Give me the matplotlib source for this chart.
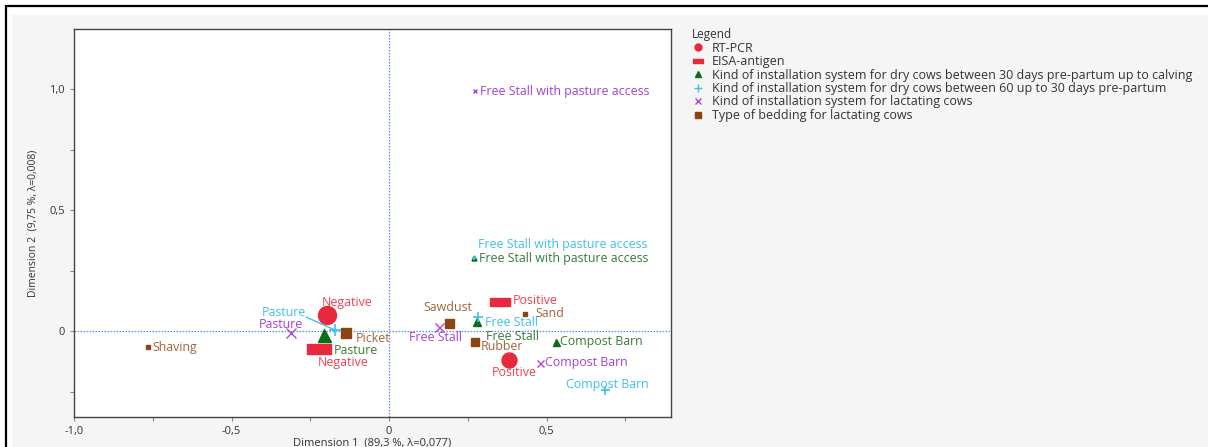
import matplotlib
matplotlib.use("Agg")
import matplotlib.pyplot as plt
from matplotlib.patches import Rectangle
from matplotlib.lines import Line2D

plt.rcParams['font.family'] = ['Open Sans', 'DejaVu Sans']

# ---- data ----
rt_labels = ["Negative", "Positive"]
rt_x = [-0.197, 0.381]
rt_y = [0.066, -0.120]

eisa_labels = ["Negative", "Positive"]
eisa_x = [-0.222, 0.352]
eisa_y = [-0.074, 0.120]

dry30_labels = ["Pasture", "Free Stall", "Compost Barn", "Free Stall with pasture access"]
dry30_x = [-0.206, 0.279, 0.530, 0.270]
dry30_y = [-0.017, 0.037, -0.045, 0.300]

dry60_labels = ["Pasture", "Free Stall", "Compost Barn", "Free Stall with pasture access"]
dry60_x = [-0.171, 0.282, 0.686, 0.270]
dry60_y = [0.004, 0.058, -0.244, 0.300]

lact_labels = ["Pasture", "Free Stall", "Compost Barn", "Free Stall with pasture access"]
lact_x = [-0.310, 0.160, 0.480, 0.273]
lact_y = [-0.010, 0.017, -0.130, 0.990]

bed_labels = ["Shaving", "Picket", "Sawdust", "Sand", "Rubber"]
bed_x = [-0.765, -0.137, 0.190, 0.430, 0.273]
bed_y = [-0.066, -0.006, 0.033, 0.070, -0.045]

legend_labels = ["RT-PCR", "EISA-antigen",
                 "Kind of installation system for dry cows between 30 days pre-partum up to calving",
                 "Kind of installation system for dry cows between 60 up to 30 days pre-partum",
                 "Kind of installation system for lactating cows",
                 "Type of bedding for lactating cows"]

# ---- styles ----
RED, RED_T = '#e8283c', '#f04050'
GRN, GRN_T = '#0a6e14', '#3a7a3a'
CYN, CYN_T = '#3cc0ec', '#40bff0'
PUR, PUR_T = '#b048d8', '#a440d0'
BRN, BRN_T = '#8b4513', '#a0643c'
rect_marker = [(-1.2, -0.5), (1.2, -0.5), (1.2, 0.5), (-1.2, 0.5), (-1.2, -0.5)]
FS = 8.9

W, H = 1208, 447
fig = plt.figure(figsize=(W / 100, H / 100), dpi=100, facecolor='white')
fig.patches.append(Rectangle((12 / W, -0.1), 1300 / W, (H - 15) / H + 0.1, transform=fig.transFigure,
                             facecolor='#f5f5f5', edgecolor='none', zorder=-20))
fig.patches.append(Rectangle((6 / W, -0.1), 1300 / W, (H - 6.5) / H + 0.1, transform=fig.transFigure,
                             facecolor='none', edgecolor='black', lw=1.6, zorder=-10))

ax = fig.add_axes([74 / W, 1 - 417 / H, (671 - 74) / W, (417 - 29) / H])
ax.set_facecolor('white')
ax.set_xlim(-1.0, 0.895)
ax.set_ylim(-0.355, 1.248)
ax.axhline(0, color='#5a8ee8', lw=0.9, ls=(0, (1.2, 1.2)), zorder=1)
ax.axvline(0, color='#5a8ee8', lw=0.9, ls=(0, (1.2, 1.2)), zorder=1)

ax.set_xticks([-1.0, -0.5, 0, 0.5])
ax.set_xticklabels(["-1,0", "-0,5", "0", "0,5"])
ax.set_xticks([-0.75, -0.25, 0.25, 0.75], minor=True)
ax.set_yticks([0, 0.5, 1.0])
ax.set_yticklabels(["0", "0,5", "1,0"])
ax.set_yticks([-0.25, 0.25, 0.75], minor=True)
ax.tick_params(which='both', direction='out', length=3, width=0.8, color='#888888',
               labelsize=8, labelcolor='#333333')
for s in ax.spines.values():
    s.set_color('#444444')
    s.set_linewidth(1.0)
ax.set_xlabel("Dimension 1  (89,3 %, λ=0,077)", fontsize=8, color='#333333', labelpad=0)
ax.set_ylabel("Dimension 2  (9,75 %, λ=0,008)", fontsize=7.5, color='#333333', labelpad=8)


def label(x, y, txt, color, dx, dy, ha='left'):
    ax.annotate(txt, (x, y), xytext=(dx, dy), textcoords='offset pixels',
                ha=ha, va='center', fontsize=FS, color=color, zorder=5)


def px(v):
    return v * 0.72

# RT-PCR circles
rt_sizes = [18, 15]
rt_off = [(20, 13, 'center'), (5, -12, 'center')]
for i in range(len(rt_x)):
    ax.plot(rt_x[i], rt_y[i], 'o', ms=px(rt_sizes[i]), color=RED, mec=RED, zorder=3)
    label(rt_x[i], rt_y[i], rt_labels[i], RED_T, *rt_off[i])

# EISA rectangles
eisa_sizes = [24, 20]
eisa_off = [(24, -14, 'center'), (13, 2, 'left')]
for i in range(len(eisa_x)):
    ax.plot(eisa_x[i], eisa_y[i], marker=rect_marker, ls='none', ms=px(eisa_sizes[i]),
            color=RED, mec=RED, zorder=3)
    label(eisa_x[i], eisa_y[i], eisa_labels[i], RED_T, *eisa_off[i])

# dry 30 triangles
d30_sizes = [13, 8, 7, 5]
d30_off = [(10, -15, 'left'), (9, -14, 'left'), (4, 0, 'left'), (5, 0, 'left')]
for i in range(len(dry30_x)):
    ax.plot(dry30_x[i], dry30_y[i], '^', ms=px(d30_sizes[i]), color=GRN, mec=GRN, zorder=4)
    label(dry30_x[i], dry30_y[i], dry30_labels[i], GRN_T, *d30_off[i])

# dry 60 plus
d60_sizes = [12, 10, 9, 5]
d60_off = [(-51, 18, 'center'), (7, -5, 'left'), (2, 6, 'center'), (4, 14, 'left')]
for i in range(len(dry60_x)):
    ax.plot(dry60_x[i], dry60_y[i], '+', ms=px(d60_sizes[i]), mew=1.2, color=CYN, zorder=4)
    label(dry60_x[i], dry60_y[i], dry60_labels[i], CYN_T, *d60_off[i])
# leader line for Pasture label
ax.annotate("", (dry60_x[0], dry60_y[0]), xytext=(-29, 13), textcoords='offset pixels',
            arrowprops=dict(arrowstyle='-', color=CYN, lw=1.0, shrinkA=0, shrinkB=0))

# lactating x
lac_sizes = [10, 9, 7, 5]
lac_off = [(-11, 9, 'center'), (-4, -11, 'center'), (5, 0, 'left'), (5, 0, 'left')]
for i in range(len(lact_x)):
    ax.plot(lact_x[i], lact_y[i], 'x', ms=px(lac_sizes[i]), mew=1.0, color=PUR, zorder=4)
    label(lact_x[i], lact_y[i], lact_labels[i], PUR_T, *lac_off[i])

# bedding squares
bed_sizes = [5, 10, 9, 5, 8]
bed_off = [(4, 0, 'left'), (10, -6, 'left'), (-1, 16, 'center'), (11, 1, 'left'), (6, -5, 'left')]
for i in range(len(bed_x)):
    ax.plot(bed_x[i], bed_y[i], 's', ms=px(bed_sizes[i]), color=BRN, mec=BRN, zorder=3)
    label(bed_x[i], bed_y[i], bed_labels[i], BRN_T, *bed_off[i])

# legend
handles = [
    Line2D([], [], marker='o', ls='none', color=RED, ms=5),
    Line2D([], [], marker=rect_marker, ls='none', color=RED, ms=7),
    Line2D([], [], marker='^', ls='none', color=GRN, ms=5),
    Line2D([], [], marker='+', ls='none', color=CYN, ms=6, mew=1.0),
    Line2D([], [], marker='x', ls='none', color=PUR, ms=5, mew=1.0),
    Line2D([], [], marker='s', ls='none', color=BRN, ms=4.5),
]
leg = fig.legend(handles, legend_labels, title="Legend", loc='upper left',
                 bbox_to_anchor=(692 / W, 1 - 28 / H), frameon=False, alignment='left',
                 fontsize=9, title_fontsize=8.5, handlelength=1.0, handletextpad=0.6,
                 labelspacing=0.04, borderaxespad=0, borderpad=0)
for t in leg.get_texts():
    t.set_color('#333333')
leg.get_title().set_color('#333333')

fig.savefig("out.png", dpi=100)
